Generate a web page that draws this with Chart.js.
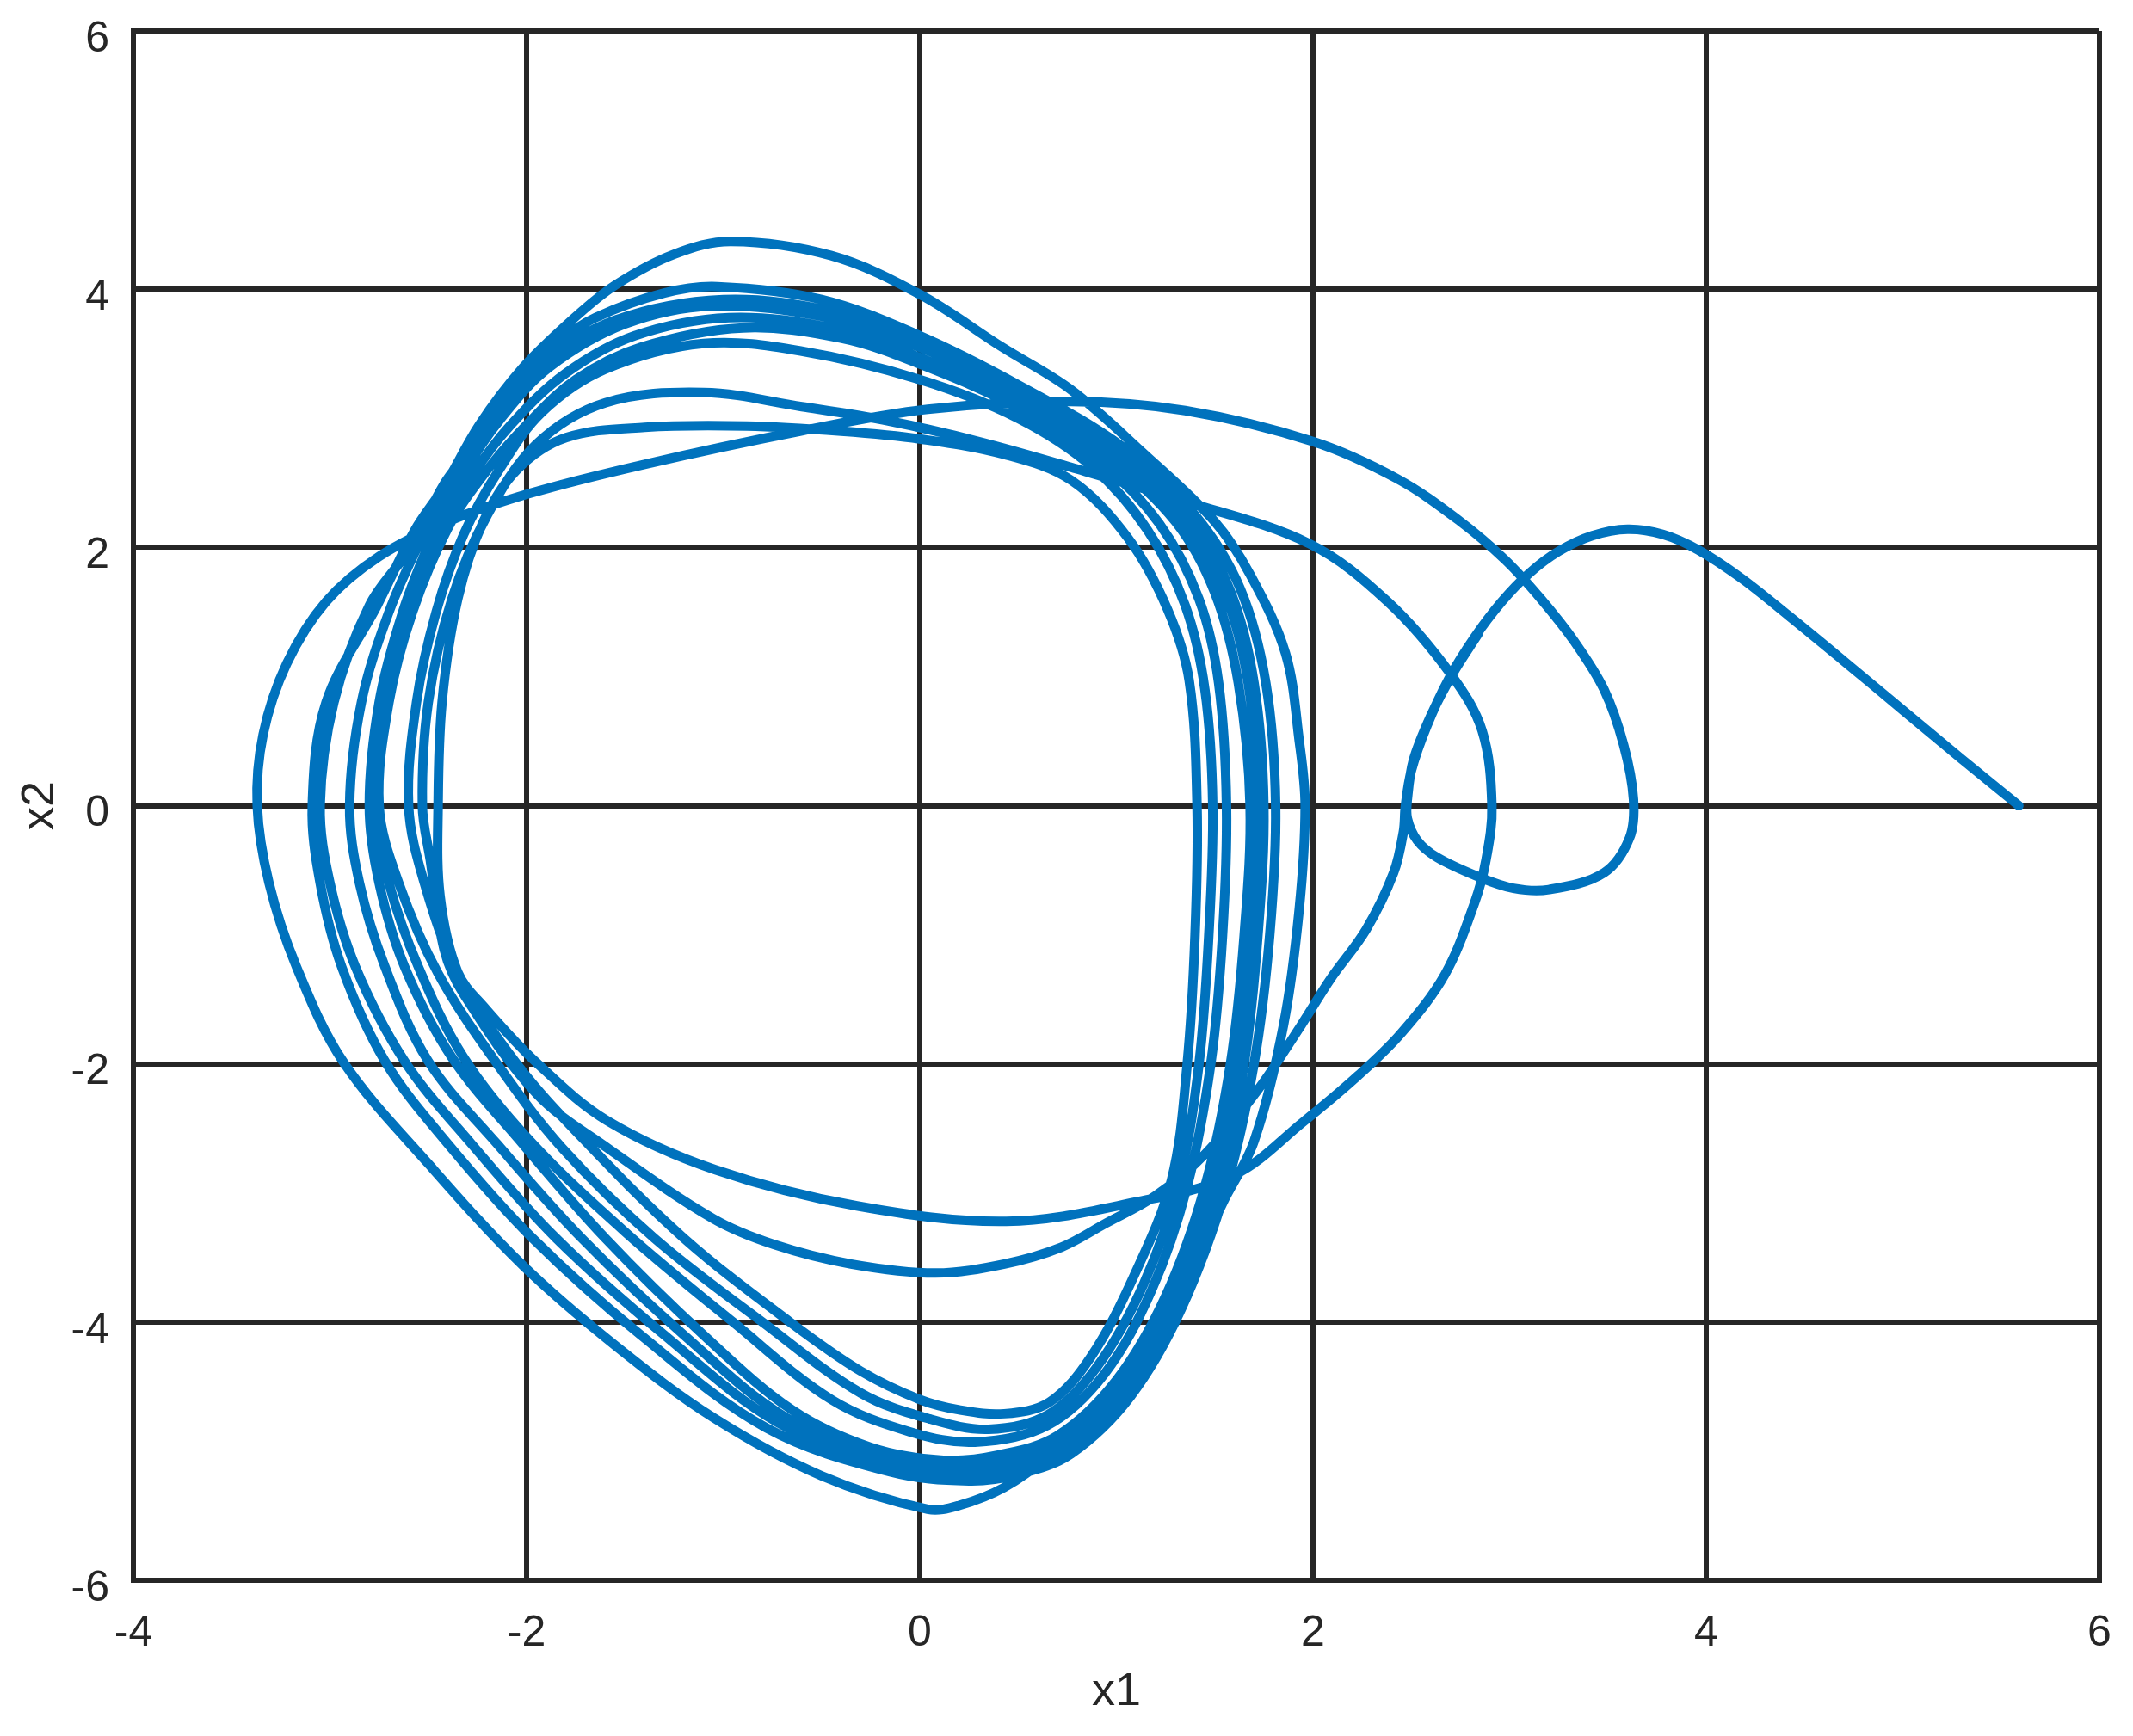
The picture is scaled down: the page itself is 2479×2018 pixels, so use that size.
<!DOCTYPE html>
<html><head><meta charset="utf-8">
<script src="https://cdn.jsdelivr.net/npm/chart.js@4.4.1/dist/chart.umd.min.js"></script>
<style>html,body{margin:0;padding:0;background:#fff;} #wrap{width:2479px;height:2018px;}</style>
</head><body><div id="wrap"><canvas id="c" width="2479" height="2018"></canvas></div>
<script>
const xTicks = [-4, -2, 0, 2, 4, 6];
const yTicks = [-6, -4, -2, 0, 2, 4, 6];
const xLabel = 'x1';
const yLabel = 'x2';

// trajectory pieces, [x1, x2]
const transient = [[5.59,0.0],[5.3,0.36],[5.0,0.74],[4.7,1.12],[4.42,1.47],[4.18,1.76],[3.96,1.98],[3.78,2.1],[3.6,2.14],[3.42,2.09],[3.25,1.97],[3.1,1.8],[2.96,1.58],[2.82,1.3],[2.69,0.98],[2.58,0.62],[2.5,0.27],[2.47,0.0],[2.46,-0.2]];
const innerLoop1 = [[2.41,-0.52],[2.27,-0.96],[2.09,-1.34],[1.94,-1.7],[1.72,-2.2],[1.45,-2.7],[1.2,-3.02],[0.94,-3.24],[0.72,-3.42],[0.43,-3.55],[0.08,-3.62],[-0.35,-3.55],[-0.74,-3.4],[-1.05,-3.2],[-1.59,-2.65],[-1.95,-2.23],[-2.32,-1.46],[-2.42,-1.11],[-2.49,-0.42],[-2.53,0]];
const arc32 = [[-2.5,0.8],[-2.38,1.6],[-2.2,2.25],[-1.95,2.8],[-1.6,3.12],[-1.1,3.2],[-0.6,3.09],[-0.16,2.98],[0.3,2.82],[0.77,2.62],[1.32,2.37],[1.98,2.03],[2.38,1.58],[2.7,1.02],[2.86,0.58],[2.91,0]];
const innerLoop2 = [[2.88,-0.42],[2.82,-0.76],[2.67,-1.31],[2.45,-1.76],[2.23,-2.09],[1.95,-2.45],[1.6,-2.86],[1.1,-3.07],[0.44,-3.22],[-0.32,-3.1],[-1.04,-2.82],[-1.59,-2.44],[-1.95,-1.99],[-2.21,-1.57],[-2.35,-1.29],[-2.44,-0.7],[-2.45,0]];
const arc293 = [[-2.43,0.8],[-2.35,1.6],[-2.22,2.2],[-2.05,2.6],[-1.8,2.85],[-1.4,2.93],[-0.88,2.94],[-0.4,2.9],[0,2.84],[0.43,2.72],[0.77,2.52],[1.06,2.07],[1.26,1.52],[1.37,0.97],[1.41,0]];
const lower1 = [[1.4,-1.0],[1.36,-2.0],[1.28,-2.9],[1.09,-3.64],[0.87,-4.27],[0.66,-4.62],[0.43,-4.71],[0.2,-4.68],[0.0,-4.6],[-0.3,-4.38],[-0.66,-4.0],[-1.2,-3.35],[-1.7,-2.6],[-2.05,-2.0],[-2.35,-1.3],[-2.52,-0.6],[-2.6,0]];
const upper359 = [[-2.56,0.8],[-2.46,1.5],[-2.32,2.1],[-2.14,2.6],[-1.92,3.05],[-1.6,3.38],[-1.1,3.58],[-0.6,3.52],[0,3.3],[0.5,3.0],[0.88,2.62],[1.16,2.13],[1.35,1.55],[1.45,0.9],[1.49,0]];
const lower2 = [[1.47,-1.0],[1.42,-2.0],[1.32,-2.9],[1.14,-3.7],[0.9,-4.35],[0.65,-4.72],[0.35,-4.83],[0.05,-4.75],[-0.3,-4.55],[-0.8,-4.0],[-1.35,-3.35],[-1.82,-2.65],[-2.15,-2.0],[-2.45,-1.3],[-2.65,-0.6],[-2.75,0]];
const upper370 = [[-2.7,0.8],[-2.58,1.5],[-2.4,2.15],[-2.2,2.6],[-2.0,2.95],[-1.75,3.3],[-1.42,3.55],[-0.9,3.7],[-0.4,3.62],[0,3.42],[0.5,3.08],[0.92,2.66],[1.22,2.18],[1.42,1.6],[1.52,0.95],[1.56,0]];
const lower3 = [[1.54,-1.0],[1.48,-2.0],[1.36,-2.95],[1.18,-3.75],[0.94,-4.4],[0.65,-4.8],[0.28,-4.93],[-0.05,-4.85],[-0.45,-4.6],[-0.95,-4.0],[-1.5,-3.3],[-1.98,-2.6],[-2.32,-1.95],[-2.55,-1.25],[-2.7,-0.6],[-2.77,0]];
const upper378 = [[-2.72,0.8],[-2.6,1.5],[-2.45,2.1],[-2.28,2.55],[-2.08,2.95],[-1.8,3.35],[-1.45,3.64],[-0.97,3.78],[-0.45,3.7],[0,3.47],[0.5,3.12],[0.95,2.7],[1.3,2.2],[1.5,1.65],[1.62,0.95],[1.68,0]];
const lower4 = [[1.65,-1.0],[1.58,-2.0],[1.45,-2.95],[1.25,-3.8],[1.0,-4.45],[0.7,-4.88],[0.4,-5.03],[0.12,-5.07],[-0.25,-4.97],[-0.65,-4.68],[-1.1,-4.1],[-1.6,-3.35],[-2.02,-2.62],[-2.38,-1.95],[-2.62,-1.25],[-2.75,-0.6],[-2.8,0]];
const upper386 = [[-2.75,0.8],[-2.63,1.5],[-2.49,2.05],[-2.33,2.55],[-2.13,3.0],[-1.88,3.4],[-1.5,3.73],[-1.06,3.87],[-0.5,3.79],[0,3.55],[0.5,3.18],[0.98,2.72],[1.33,2.22],[1.55,1.65],[1.67,0.95],[1.72,0]];
const lower5 = [[1.69,-1.0],[1.62,-2.0],[1.49,-2.95],[1.28,-3.85],[1.02,-4.5],[0.72,-4.93],[0.45,-5.08],[0.2,-5.12],[-0.15,-5.06],[-0.68,-4.74],[-1.2,-4.1],[-1.72,-3.35],[-2.15,-2.62],[-2.5,-1.98],[-2.72,-1.25],[-2.85,-0.6],[-2.9,0]];
const upper390 = [[-2.84,0.8],[-2.7,1.5],[-2.54,2.05],[-2.38,2.5],[-2.18,2.98],[-1.92,3.42],[-1.55,3.76],[-1.0,3.92],[-0.45,3.83],[0,3.58],[0.5,3.2],[1.0,2.74],[1.36,2.24],[1.58,1.66],[1.7,0.95],[1.75,0]];
const lower6 = [[1.72,-1.0],[1.65,-2.0],[1.52,-2.95],[1.3,-3.88],[1.04,-4.55],[0.74,-4.98],[0.47,-5.13],[0.22,-5.17],[-0.15,-5.1],[-0.72,-4.78],[-1.3,-4.1],[-1.85,-3.35],[-2.28,-2.62],[-2.62,-1.98],[-2.87,-1.25],[-3.0,-0.6],[-3.05,0]];
const upper402 = [[-2.98,0.8],[-2.8,1.55],[-2.59,2.0],[-2.42,2.49],[-2.28,2.78],[-2.17,3.07],[-1.99,3.38],[-1.83,3.6],[-1.65,3.78],[-1.3,3.97],[-1.03,4.02],[-0.5,3.92],[0,3.64],[0.5,3.26],[1.03,2.78],[1.4,2.25],[1.63,1.68],[1.76,0.95],[1.81,0]];
const lower7 = [[1.78,-1.0],[1.7,-2.0],[1.56,-2.95],[1.33,-3.9],[1.07,-4.58],[0.77,-5.02],[0.5,-5.18],[0.25,-5.23],[-0.15,-5.16],[-0.78,-4.82],[-1.42,-4.1],[-1.97,-3.35],[-2.4,-2.62],[-2.72,-1.98],[-2.94,-1.25],[-3.05,-0.6],[-3.09,0]];
const upper437 = [[-3.02,0.8],[-2.76,1.55],[-2.57,2.13],[-2.42,2.47],[-2.24,2.95],[-2.02,3.39],[-1.77,3.76],[-1.55,4.03],[-1.25,4.27],[-0.96,4.37],[-0.45,4.26],[0,3.96],[0.42,3.55],[0.77,3.22],[1.13,2.74],[1.5,2.2],[1.68,1.79],[1.86,1.18],[1.93,0.5],[1.96,0]];
const lower8 = [[1.93,-0.8],[1.85,-1.7],[1.7,-2.6],[1.54,-3.08],[1.3,-3.86],[1.09,-4.33],[0.87,-4.68],[0.65,-5.04],[0.43,-5.28],[0.2,-5.42],[0.04,-5.45],[-0.5,-5.19],[-1.05,-4.74],[-1.55,-4.18],[-2.02,-3.56],[-2.49,-2.79],[-2.93,-1.99],[-3.17,-1.25],[-3.31,-0.6],[-3.37,0]];
const longArc = [[-3.34,0.55],[-3.22,1.1],[-3.02,1.58],[-2.75,1.93],[-2.4,2.2],[-1.98,2.42],[-1.41,2.64],[-0.61,2.9],[0.04,3.07],[0.77,3.13],[1.35,3.06],[2.0,2.82],[2.43,2.53],[2.75,2.2],[2.98,1.9],[3.16,1.6],[3.33,1.27],[3.48,0.9],[3.58,0.47],[3.63,0.05],[3.61,-0.25],[3.48,-0.52],[3.2,-0.65],[3.02,-0.64],[2.84,-0.55],[2.63,-0.4],[2.53,-0.27],[2.48,-0.1],[2.48,0.05],[2.51,0.35],[2.6,0.7],[2.71,1.02],[2.84,1.33]];

const segments = [transient, innerLoop1, arc32, innerLoop2, arc293, lower1, upper359, lower2, upper370, lower3, upper378, lower4, upper386, lower5, upper390, lower6, upper402, lower7, upper437, lower8, longArc];
const path = segments.flat().map(p => ({x: p[0], y: p[1]}));

const ink = '#262626';
const tickFont = {family: 'Liberation Sans', size: 50};
const titleFont = {family: 'Liberation Sans', size: 54};

new Chart(document.getElementById('c'), {
  type: 'scatter',
  data: {datasets: [{
    data: path, showLine: true, borderColor: '#0072BD', borderWidth: 11,
    pointRadius: 0, tension: 0.35, fill: false,
    borderCapStyle: 'round', borderJoinStyle: 'round'
  }]},
  options: {
    responsive: false, animation: false, devicePixelRatio: 1,
    layout: {padding: {top: 36, right: 39, left: 0, bottom: 0}},
    plugins: {legend: {display: false}, tooltip: {enabled: false}},
    scales: {
      x: {
        type: 'linear', min: -4, max: 6,
        afterBuildTicks: s => { s.ticks = xTicks.map(v => ({value: v})); },
        afterFit: s => { s.height = 181; s.paddingLeft = 0; s.paddingRight = 0; },
        grid: {color: ink, lineWidth: 6, drawTicks: false},
        border: {color: ink, width: 6},
        ticks: {padding: 32, color: ink, font: tickFont, maxRotation: 0},
        title: {display: true, text: xLabel, color: ink, font: titleFont, padding: {top: 0, bottom: 18}}
      },
      y: {
        type: 'linear', min: -6, max: 6,
        afterBuildTicks: s => { s.ticks = yTicks.map(v => ({value: v})); },
        afterFit: s => { s.width = 155; s.paddingTop = 0; s.paddingBottom = 0; },
        grid: {color: ink, lineWidth: 6, drawTicks: false},
        border: {color: ink, width: 6},
        ticks: {padding: 28, color: ink, font: tickFont, labelOffset: 10},
        title: {display: true, text: yLabel, color: ink, font: titleFont, padding: {top: 15, bottom: 0}}
      }
    }
  }
});
</script>
</body></html>
